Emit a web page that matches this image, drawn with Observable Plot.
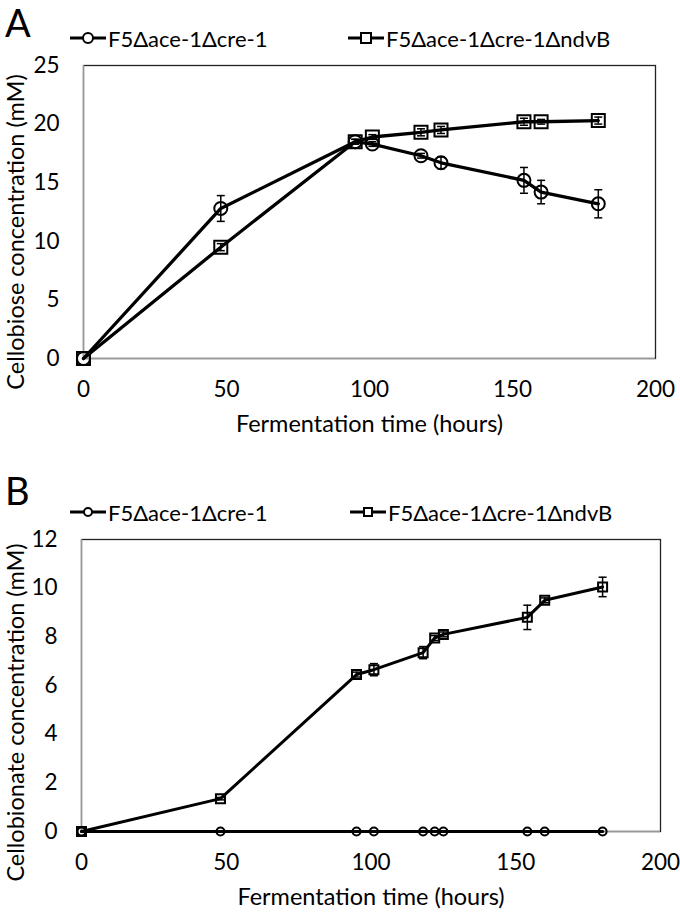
<!DOCTYPE html>
<html>
<head>
<meta charset="utf-8">
<script src="https://cdn.jsdelivr.net/npm/d3@7"></script>
<script src="https://cdn.jsdelivr.net/npm/@observablehq/plot@0.6"></script>
<style>
  body { margin: 0; background: #fff; font-family: Lato, sans-serif; }
  #wrap { position: relative; width: 680px; height: 919px; overflow: hidden; }
  .letter { position: absolute; left: 5px; font-size: 38px; line-height: 1.1; color: #000; }
  .legend { position: absolute; display: flex; align-items: center; font-size: 22px; color: #000; white-space: nowrap; height: 24px; }
  .legend svg { display: block; margin-right: 2px; }
  .plotbox { position: absolute; left: 0; }
</style>
</head>
<body>
<div id="wrap">
  <div class="letter" style="top:2px">A</div>
  <div class="legend" id="legA1" style="left:70px; top:26px"></div>
  <div class="legend" id="legA2" style="left:348px; top:26px"></div>
  <div class="plotbox" id="plotA" style="top:50px"></div>

  <div class="letter" style="top:470px">B</div>
  <div class="legend" id="legB1" style="left:70px; top:500px"></div>
  <div class="legend" id="legB2" style="left:350px; top:500px"></div>
  <div class="plotbox" id="plotB" style="top:524px"></div>
</div>
<script>
// ---------- DATA ----------
const seriesNames = ["F5\u0394ace-1\u0394cre-1", "F5\u0394ace-1\u0394cre-1\u0394ndvB"];
const xTicks = [0, 50, 100, 150, 200];

// Panel A: cellobiose
const timesA = [0, 48, 95, 101, 118, 125, 154, 160, 180];
const cellobioseWT = [0, 12.8, 18.5, 18.3, 17.3, 16.7, 15.2, 14.2, 13.2];
const cellobioseWTErr = [0, 1.1, 0.2, 0.2, 0.2, 0.5, 1.1, 1.0, 1.2];
const cellobioseNdvB = [0, 9.5, 18.5, 18.9, 19.3, 19.5, 20.2, 20.2, 20.3];
const cellobioseNdvBErr = [0, 0.3, 0.2, 0.2, 0.3, 0.3, 0.3, 0.2, 0.3];
const yTicksA = [0, 5, 10, 15, 20, 25];

// Panel B: cellobionate
const timesB = [0, 48, 95, 101, 118, 122, 125, 154, 160, 180];
const cellobionateWT = [0, 0, 0, 0, 0, 0, 0, 0, 0, 0];
const cellobionateWTErr = [0, 0, 0, 0, 0, 0, 0, 0, 0, 0];
const cellobionateNdvB = [0, 1.35, 6.45, 6.65, 7.35, 7.95, 8.1, 8.8, 9.5, 10.05];
const cellobionateNdvBErr = [0, 0.05, 0.1, 0.25, 0.25, 0.1, 0.1, 0.5, 0.1, 0.4];
const yTicksB = [0, 2, 4, 6, 8, 10, 12];

// ---------- HELPERS ----------
const squareSym = { draw(ctx, size) { const r = Math.sqrt(size / Math.PI); ctx.rect(-r, -r, 2 * r, 2 * r); } };
const capSym = { draw(ctx, size) { const r = Math.sqrt(size / Math.PI); ctx.moveTo(-r, 0); ctx.lineTo(r, 0); } };

function rows(times, vals, errs, series) {
  return times.map((t, i) => ({ t, v: vals[i], e: errs[i], series }));
}

function makePanel(opts) {
  const { data, yDomain, yTicks, yTitle, height, mt, mb, ml, mr, rC, rS, lineW, yTitleDy } = opts;
  const errRows = data.filter(d => d.e > 0);
  const s0 = data.filter(d => d.series === seriesNames[0]);
  const s1 = data.filter(d => d.series === seriesNames[1]);
  return Plot.plot({
    width: 680,
    height,
    marginTop: mt, marginBottom: mb, marginLeft: ml, marginRight: mr,
    style: { fontFamily: "Lato, sans-serif", fontSize: "22.5px", color: "#000", background: "#fff", overflow: "visible" },
    x: { domain: [0, 200], ticks: xTicks, tickSize: 0, tickPadding: 23, label: null },
    y: { domain: yDomain, ticks: yTicks, tickSize: 0, tickPadding: 24, label: null },
    marks: [
      Plot.frame({ stroke: "#222", strokeWidth: 1.3 }),
      Plot.ruleX([0], { stroke: "#999", strokeWidth: 1.3 }),
      Plot.ruleY([yDomain[0]], { stroke: "#999", strokeWidth: 1.3 }),
      Plot.ruleX(errRows, { x: "t", y1: d => d.v - d.e, y2: d => d.v + d.e, stroke: "#000", strokeWidth: 1.5 }),
      Plot.dot(errRows, { x: "t", y: d => d.v + d.e, symbol: capSym, r: 4, stroke: "#000", strokeWidth: 1.5 }),
      Plot.dot(errRows, { x: "t", y: d => d.v - d.e, symbol: capSym, r: 4, stroke: "#000", strokeWidth: 1.5 }),
      Plot.line(s1, { x: "t", y: "v", stroke: "#000", strokeWidth: lineW }),
      Plot.line(s0, { x: "t", y: "v", stroke: "#000", strokeWidth: lineW }),
      Plot.dot(s1, { x: "t", y: "v", symbol: squareSym, r: rS, stroke: "#000", fill: "none", strokeWidth: 2 }),
      Plot.dot(s0, { x: "t", y: "v", symbol: "circle", r: rC, stroke: "#000", fill: "none", strokeWidth: 2 }),
      Plot.text(["Fermentation time (hours)"], { frameAnchor: "bottom", textAnchor: "middle", text: d => d, dy: 73, fontSize: 23.5, fill: "#000" }),
      Plot.text([yTitle], { frameAnchor: "left", textAnchor: "middle", text: d => d, rotate: -90, dx: -(ml - 16), dy: yTitleDy, fontSize: 23.5, fill: "#000" })
    ]
  });
}

function legendItem(el, name, kind, size) {
  const w = 36, h = 20, cy = h / 2, cx = w / 2;
  let marker = kind === "circle"
    ? `<circle cx="${cx}" cy="${cy}" r="${size}" fill="white" stroke="black" stroke-width="2"/>`
    : `<rect x="${cx - size}" y="${cy - size}" width="${2 * size}" height="${2 * size}" fill="white" stroke="black" stroke-width="2"/>`;
  el.innerHTML = `<svg width="${w}" height="${h}"><line x1="0" x2="${w}" y1="${cy}" y2="${cy}" stroke="black" stroke-width="3"/>${marker}</svg><span>${name}</span>`;
}

// ---------- PANEL A ----------
const dataA = [
  ...rows(timesA, cellobioseWT, cellobioseWTErr, seriesNames[0]),
  ...rows(timesA, cellobioseNdvB, cellobioseNdvBErr, seriesNames[1])
];
document.getElementById("plotA").appendChild(makePanel({
  data: dataA, yDomain: [0, 25], yTicks: yTicksA, yTitle: "Cellobiose concentration (mM)",
  height: 400, mt: 15, mb: 92, ml: 83, mr: 25, rC: 6.5, rS: 6.5, lineW: 3.3, yTitleDy: 20
}));
legendItem(document.getElementById("legA1"), seriesNames[0], "circle", 5);
legendItem(document.getElementById("legA2"), seriesNames[1], "square", 5);

// ---------- PANEL B ----------
const dataB = [
  ...rows(timesB, cellobionateWT, cellobionateWTErr, seriesNames[0]),
  ...rows(timesB, cellobionateNdvB, cellobionateNdvBErr, seriesNames[1])
];
document.getElementById("plotB").appendChild(makePanel({
  data: dataB, yDomain: [0, 12], yTicks: yTicksB, yTitle: "Cellobionate concentration (mM)",
  height: 395, mt: 15, mb: 88, ml: 81, mr: 20, rC: 4, rS: 4.5, lineW: 3, yTitleDy: 27
}));
legendItem(document.getElementById("legB1"), seriesNames[0], "circle", 4);
legendItem(document.getElementById("legB2"), seriesNames[1], "square", 4);
</script>
</body>
</html>
